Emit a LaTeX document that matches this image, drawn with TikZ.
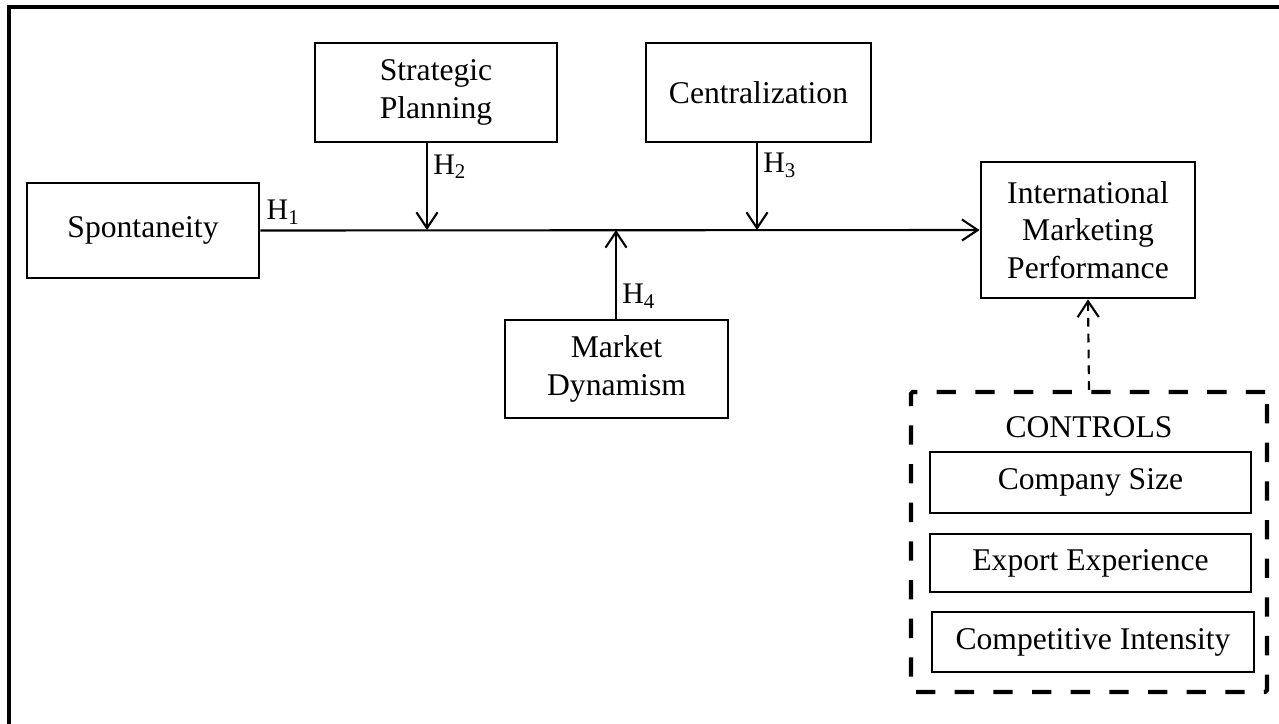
\documentclass[tikz,border=0pt]{standalone}
\usepackage{fontspec}
\setmainfont{Liberation Serif}
\usetikzlibrary{positioning,arrows.meta}

\begin{document}
\begin{tikzpicture}[x=0.02cm,y=-0.02cm,
    box/.style={draw,line width=1.6pt,align=center,inner sep=2pt,
      font=\fontsize{18}{21.5}\selectfont},
    hyp/.style={inner sep=3pt,font=\fontsize{17}{20}\selectfont},
    link/.style={line width=1.2pt,-{Straight Barb[length=9pt,width=12pt]}},
    ctrlbox/.style={draw,line width=2.4pt,dash pattern=on 11pt off 11pt,
      rounded corners=1pt}]
          \clip (0,0) rectangle (1279,724);
          \draw[line width=2pt] (9,760) -- (9,7) -- (1320,7);

          \draw (143,230.5) node[box,minimum width=4.64cm,minimum height=1.9cm]
          (spont) {Spontaneity};

          \draw (436,92.5) node[box,minimum width=4.84cm,minimum height=1.98cm]
          (strat) {Strategic\\Planning};

          \draw (758.5,92.5) node[box,minimum width=4.5cm,minimum height=1.98cm]
          (central) {Centralization};

          \draw (616.5,369) node[box,minimum width=4.46cm,minimum height=1.96cm]
          (market) {Market\\Dynamism};

          \draw (1088,230) node[box,minimum width=4.28cm,minimum height=2.72cm]
          (imp) {International\\Marketing\\Performance};

          \draw (1089,542) node[ctrlbox,minimum width=7.12cm,minimum height=6cm]
          (ctrl) {};

          \draw (1089,427) node[font=\fontsize{18}{21.5}\selectfont] (ctrlhead)
          {CONTROLS};

          \draw (1090.5,482.5) node[box,minimum width=6.42cm,minimum height=1.22cm]
          (size) {Company Size};

          \draw (1090.5,563) node[box,minimum width=6.42cm,minimum height=1.16cm]
          (export) {Export Experience};

          \draw (1093,642) node[box,minimum width=6.44cm,minimum height=1.2cm]
          (compet) {Competitive Intensity};

          \coordinate (j2) at (427,230);
          \coordinate (j3) at (757,230);
          \coordinate (j4) at (616,230);

          \draw[link] (spont.east) to node[hyp,pos=0,anchor=south west]
          {H\textsubscript{1}} (imp.west);

          \draw[link] (strat.south -| j2) to node[hyp,pos=0.27,anchor=west]
          {H\textsubscript{2}} (j2);

          \draw[link] (central.south -| j3) to node[hyp,pos=0.25,anchor=west]
          {H\textsubscript{3}} (j3);

          \draw[link] (market.north -| j4) to node[hyp,pos=0.25,anchor=west]
          {H\textsubscript{4}} (j4);

          \draw[link,dash pattern=on 5pt off 4pt] (ctrl.north) to (imp.south);
        \end{tikzpicture}
\end{document}
